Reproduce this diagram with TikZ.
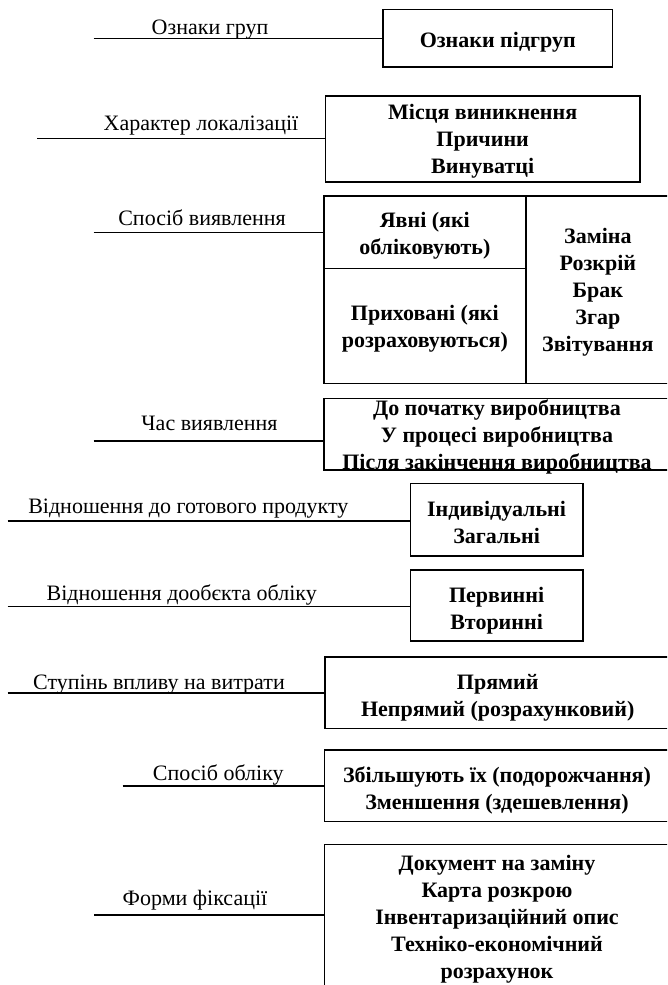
\documentclass[tikz,border=0pt]{standalone}
\usepackage{fontspec}
\setmainfont{Liberation Serif}
\begin{document}
\begin{tikzpicture}[x=1pt,y=-1pt,
  frame/.style={draw, rectangle, line width=1.6pt, inner sep=0pt, outer sep=0pt, anchor=north west},
  boxtext/.style={font=\fontsize{22}{27}\selectfont\bfseries, align=center, inner sep=0pt,
    execute at end node={\vphantom{у}}},
  grouplabel/.style={font=\fontsize{22}{27}\selectfont, anchor=base, inner sep=0pt},
  link/.style={line width=1.6pt}]
\useasboundingbox (0,0) rectangle (667,985);
\clip (0,0) rectangle (667,985);

% frames of the subgroup boxes
\node[frame, minimum width=229.5pt, minimum height=57.4pt]  (b1)  at (383,9.3) {};
\node[frame, minimum width=314.6pt, minimum height=85.7pt]  (b2)  at (325.4,96) {};
\node[frame, minimum width=201.7pt, minimum height=72.3pt]  (b3a) at (324,196) {};
\node[frame, minimum width=201.7pt, minimum height=115pt]   (b3b) at (324,268.3) {};
\node[frame, minimum width=144.3pt, minimum height=187.3pt] (b3c) at (525.7,196) {};
\node[frame, minimum width=346pt,   minimum height=71.7pt]  (b4)  at (324,398.3) {};
\node[frame, minimum width=172.2pt, minimum height=72.4pt]  (b5)  at (410.5,483.3) {};
\node[frame, minimum width=172.2pt, minimum height=71.2pt]  (b6)  at (410.5,570) {};
\node[frame, minimum width=344.6pt, minimum height=71.3pt]  (b7)  at (325.2,657) {};
\node[frame, minimum width=346pt,   minimum height=71.5pt]  (b8)  at (324.5,750) {};
\node[frame, minimum width=346pt,   minimum height=146pt]   (b9)  at (324.5,844.3) {};

% box contents
\node[boxtext] (t1)  at (497.75,41.8)  {Ознаки підгруп};
\node[boxtext] (t2)  at (482.7,141.4)  {Місця виникнення\\Причини\\Винуватці};
\node[boxtext] (t3a) at (424.85,235.3) {Явні (які\\обліковують)};
\node[boxtext] (t3b) at (424.85,328.3) {Приховані (які\\розраховуються)};
\node[boxtext] (t3c) at (597.85,292.2) {Заміна\\Розкрій\\Брак\\Згар\\Звітування};
\node[boxtext] (t4)  at (497,436.9)    {До початку виробництва\\У процесі виробництва\\Після закінчення виробництва};
\node[boxtext] (t5)  at (496.6,525)    {Індивідуальні\\Загальні};
\node[boxtext] (t6)  at (496.6,610.8)  {Первинні\\Вторинні};
\node[boxtext] (t7)  at (497.7,697.5)  {Прямий\\Непрямий (розрахунковий)};
\node[boxtext] (t8)  at (497,790)      {Збільшують їх (подорожчання)\\Зменшення (здешевлення)};
\node[boxtext] (t9)  at (497,918.8)    {Документ на заміну\\Карта розкрою\\Інвентаризаційний опис\\Техніко-економічний\\розрахунок};

% group labels
\node[grouplabel] (g1) at (210,34)      {Ознаки груп};
\node[grouplabel] (g2) at (201,130)     {Характер локалізації};
\node[grouplabel] (g3) at (202,225.5)   {Спосіб виявлення};
\node[grouplabel] (g4) at (209.5,430.6) {Час виявлення};
\node[grouplabel] (g5) at (188.3,513.3) {Відношення до готового продукту};
\node[grouplabel] (g6) at (181.7,600)   {Відношення дообєкта обліку};
\node[grouplabel] (g7) at (159,689.3)   {Ступінь впливу на витрати};
\node[grouplabel] (g8) at (218.3,780.7) {Спосіб обліку};
\node[grouplabel] (g9) at (195,905)     {Форми фіксації};

% line starts
\coordinate (s1) at (93.6,38.3);
\coordinate (s2) at (37.4,138.3);
\coordinate (s3) at (93.6,232.3);
\coordinate (s4) at (93.6,441);
\coordinate (s5) at (7.7,521);
\coordinate (s6) at (7.7,606.5);
\coordinate (s7) at (7.7,692.7);
\coordinate (s8) at (122.7,786);
\coordinate (s9) at (94,915);

% connectors
\draw[link] (s1) -- (s1 -| b1.west);
\draw[link] (s2) -- (s2 -| b2.west);
\draw[link] (s3) -- (s3 -| b3a.west);
\draw[link] (s4) -- (s4 -| b4.west);
\draw[link] (s5) -- (s5 -| b5.west);
\draw[link] (s6) -- (s6 -| b6.west);
\draw[link] (s7) -- (s7 -| b7.west);
\draw[link] (s8) -- (s8 -| b8.west);
\draw[link] (s9) -- (s9 -| b9.west);
\end{tikzpicture}
\end{document}
